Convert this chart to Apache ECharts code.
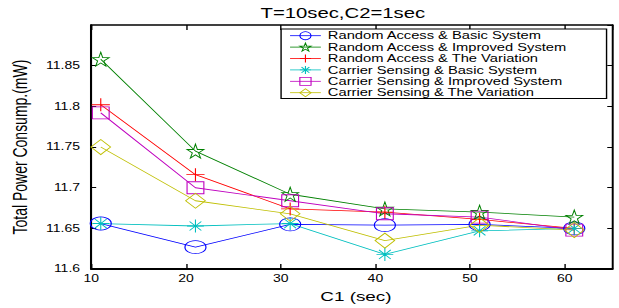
<!DOCTYPE html>
<html>
<head>
<meta charset="utf-8">
<title>Total Power Consumption</title>
<script src="https://cdn.jsdelivr.net/npm/echarts@6/dist/echarts.min.js"></script>
<style>
  html, body { margin: 0; padding: 0; background: #fff; overflow: hidden; }
  /* the source figure is stretched sideways, so draw narrow and widen it */
  #main { width: 442px; height: 308px; transform: scaleX(1.4005); transform-origin: 0 0; }
</style>
</head>
<body>
<div id="main"></div>
<script>
var c1Values = [11, 21, 31, 41, 51, 61];
var raBasic = [11.656, 11.627, 11.655, 11.654, 11.655, 11.650];
var raImproved = [11.858, 11.745, 11.692, 11.674, 11.670, 11.664];
var raVariation = [11.802, 11.716, 11.674, 11.670, 11.661, 11.650];
var csBasic = [11.656, 11.653, 11.656, 11.618, 11.647, 11.650];
var csImproved = [11.792, 11.700, 11.684, 11.668, 11.664, 11.648];
var csVariation = [11.750, 11.684, 11.668, 11.635, 11.654, 11.648];

var seriesNames = [
  'Random Access & Basic System',
  'Random Access & Improved System',
  'Random Access & The Variation',
  'Carrier Sensing & Basic System',
  'Carrier Sensing & Improved System',
  'Carrier Sensing & The Variation'
];
var seriesValues = [raBasic, raImproved, raVariation, csBasic, csImproved, csVariation];
var colors = ['#0000ff', '#008000', '#ff0000', '#00bfbf', '#bf00bf', '#bfbf00'];
var symbols = [
  'circle',
  'path://M50,0 L61,35 L98,35 L68,57 L79,91 L50,70 L21,91 L32,57 L2,35 L39,35 Z',
  'path://M50,0 L50,100 M0,50 L100,50',
  'path://M50,0 L50,100 M0,50 L100,50 M15,15 L85,85 M85,15 L15,85',
  'rect',
  'diamond'
];
var symbolSizes = [[15, 13], [12, 14], [13, 13], [12, 13], [12, 12], [14, 15]];

var font = 'Liberation Sans';

var series = seriesNames.map(function (name, i) {
  return {
    name: name,
    type: 'line',
    data: c1Values.map(function (x, j) { return [x, seriesValues[i][j]]; }),
    symbol: symbols[i],
    symbolSize: symbolSizes[i],
    showAllSymbol: true,
    lineStyle: { color: colors[i], width: 0.8 },
    itemStyle: { color: 'transparent', borderColor: colors[i], borderWidth: 0.8 },
    emphasis: { disabled: true },
    animation: false
  };
});

var chart = echarts.init(document.getElementById('main'), null, { renderer: 'svg' });
chart.setOption({
  backgroundColor: '#fff',
  animation: false,
  title: {
    text: 'T=10sec,C2=1sec',
    left: 186,
    top: 6,
    padding: 0,
    textStyle: { fontFamily: font, fontSize: 14.5, fontWeight: 'normal', color: '#000' }
  },
  legend: {
    orient: 'vertical',
    left: 200.7,
    top: 29,
    padding: [1, 6, 0, 6],
    itemWidth: 22,
    itemHeight: 10,
    itemGap: 0,
    backgroundColor: '#fff',
    borderColor: '#000',
    borderWidth: 1,
    borderRadius: 0,
    selectedMode: false,
    itemStyle: { color: 'transparent', borderWidth: 0.8 },
    lineStyle: { width: 0.8 },
    textStyle: { fontFamily: font, fontSize: 10.5, lineHeight: 11.4, color: '#000', width: 193 },
    data: seriesNames
  },
  grid: { left: 59.3, right: 4.9, top: 25, bottom: 33 },
  xAxis: [{
    type: 'value',
    min: 10, max: 65, interval: 10,
    name: 'C1 (sec)',
    nameLocation: 'middle',
    nameGap: 15,
    nameTextStyle: { fontFamily: font, fontSize: 13.5, color: '#000', padding: [0, 0, 0, 6] },
    axisLine: { onZero: false, lineStyle: { color: '#000', width: 2 } },
    axisTick: { inside: true, length: 5, lineStyle: { color: '#000' } },
    axisLabel: { showMaxLabel: false, margin: 5, fontFamily: font, fontSize: 10, color: '#000' },
    splitLine: { show: false }
  }, {
    type: 'value',
    position: 'top',
    min: 10, max: 65, interval: 10,
    axisLine: { onZero: false, lineStyle: { color: '#000', width: 1.7 } },
    axisTick: { inside: true, length: 5, lineStyle: { color: '#000' } },
    axisLabel: { show: false },
    splitLine: { show: false }
  }],
  yAxis: [{
    type: 'value',
    min: 11.6, max: 11.9, interval: 0.05,
    name: 'Total Power Consump.(mW)',
    nameLocation: 'middle',
    nameGap: 33,
    nameTextStyle: { fontFamily: font, fontSize: 14, color: '#000' },
    axisLine: { onZero: false, lineStyle: { color: '#000', width: 1.5 } },
    axisTick: { inside: true, length: 3.5, lineStyle: { color: '#000' } },
    axisLabel: {
      showMaxLabel: false, margin: 8, fontFamily: font, fontSize: 10, color: '#000',
      formatter: function (v) { return String(+v.toFixed(2)); }
    },
    splitLine: { show: false }
  }, {
    type: 'value',
    position: 'right',
    min: 11.6, max: 11.9, interval: 0.05,
    axisLine: { onZero: false, lineStyle: { color: '#000', width: 1.4 } },
    axisTick: { inside: true, length: 3.5, lineStyle: { color: '#000' } },
    axisLabel: { show: false },
    splitLine: { show: false }
  }],
  series: series
});
</script>
</body>
</html>
